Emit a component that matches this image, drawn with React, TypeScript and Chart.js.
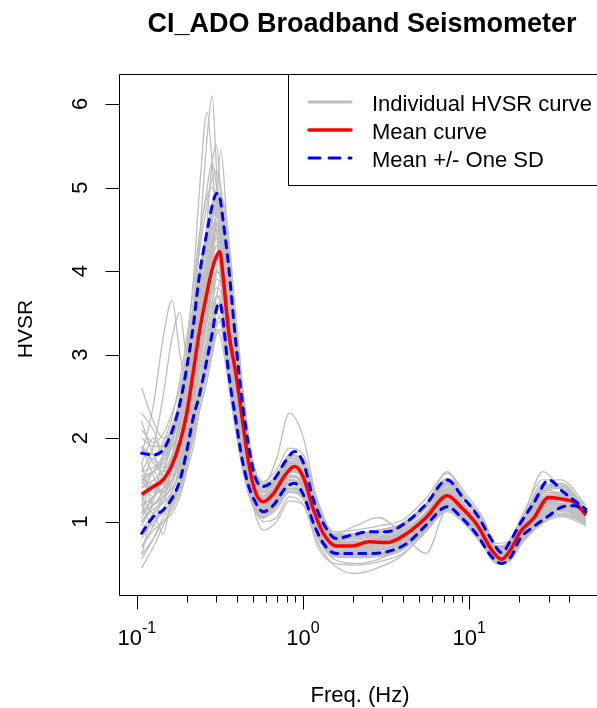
import React, { useEffect, useRef } from "react";
import { Chart, registerables } from "chart.js";
Chart.register(...registerables);

// ---- data ----
const FREQ = [0.107, 0.126, 0.144, 0.163, 0.182, 0.2, 0.219, 0.237, 0.265, 0.284, 0.302, 0.316, 0.33, 0.357, 0.394, 0.43, 0.467, 0.512, 0.575, 0.665, 0.782, 0.89, 1.006, 1.157, 1.325, 1.58, 1.975, 2.5, 3.19, 4.22, 5.5, 7.37, 9.06, 11.15, 13.65, 15.64, 17.79, 20.26, 24.35, 30.07, 36.56, 43.03, 50.25];
const MEAN = [1.33, 1.42, 1.5, 1.68, 1.95, 2.3, 2.8, 3.25, 3.75, 4.02, 4.18, 4.23, 3.95, 3.28, 2.78, 2.25, 1.75, 1.38, 1.24, 1.34, 1.56, 1.66, 1.53, 1.14, 0.86, 0.71, 0.71, 0.76, 0.75, 0.86, 1.05, 1.31, 1.16, 0.96, 0.66, 0.55, 0.67, 0.88, 1.04, 1.29, 1.27, 1.23, 1.08];
const UPPER = [1.82, 1.8, 1.86, 2.08, 2.42, 2.85, 3.35, 3.92, 4.48, 4.78, 4.93, 4.88, 4.62, 4.05, 3.15, 2.45, 1.95, 1.55, 1.42, 1.5, 1.72, 1.84, 1.7, 1.26, 0.98, 0.8, 0.84, 0.88, 0.88, 1.0, 1.21, 1.5, 1.3, 1.08, 0.78, 0.63, 0.78, 0.98, 1.22, 1.5, 1.36, 1.25, 1.15];
const LOWER = [0.86, 1.06, 1.14, 1.28, 1.5, 1.85, 2.25, 2.5, 2.95, 3.25, 3.55, 3.62, 3.42, 2.78, 2.22, 1.75, 1.45, 1.25, 1.12, 1.2, 1.4, 1.46, 1.32, 0.98, 0.74, 0.62, 0.62, 0.62, 0.64, 0.74, 0.96, 1.18, 1.04, 0.84, 0.58, 0.5, 0.58, 0.8, 0.94, 1.07, 1.18, 1.19, 1.12];

const G_FREQ = [0.107, 0.126, 0.144, 0.163, 0.182, 0.2, 0.219, 0.237, 0.265, 0.284, 0.302, 0.32, 0.348, 0.385, 0.43, 0.485, 0.575, 0.693, 0.827, 1.006, 1.227, 1.536, 2.063, 2.846, 3.967, 5.505, 7.369, 9.474, 11.98, 14.48, 16.96, 21.08, 27.62, 35.75, 50.25];
const CURVE_01 = [1.2, 1.3, 1.5, 1.8, 2.2, 2.7, 3.4, 4.3, 5.6, 6.1, 5.2, 4.4, 3.6, 2.9, 2.2, 1.6, 1.3, 1.4, 1.7, 1.55, 1.0, 0.75, 0.72, 0.78, 0.85, 1.1, 1.4, 1.15, 0.9, 0.6, 0.62, 0.95, 1.3, 1.3, 1.1];
const CURVE_02 = [1.5, 1.6, 1.7, 2.0, 2.5, 3.1, 3.9, 4.9, 5.9, 5.3, 4.5, 3.9, 3.3, 2.6, 2.0, 1.45, 1.2, 1.3, 1.5, 1.45, 1.0, 0.7, 0.68, 0.72, 0.8, 1.0, 1.25, 1.1, 0.85, 0.58, 0.62, 0.9, 1.22, 1.25, 1.05];
const CURVE_03 = [1.0, 1.2, 1.35, 1.5, 1.7, 2.0, 2.5, 3.0, 3.6, 4.1, 4.8, 5.45, 4.6, 3.4, 2.5, 1.7, 1.3, 1.45, 1.7, 1.6, 1.1, 0.75, 0.74, 0.8, 0.9, 1.1, 1.45, 1.2, 0.95, 0.62, 0.66, 0.98, 1.35, 1.35, 1.15];
const CURVE_04 = [1.8, 2.4, 3.2, 3.65, 3.0, 2.7, 3.0, 3.6, 4.6, 5.3, 5.5, 4.9, 3.9, 3.0, 2.3, 1.6, 1.3, 1.4, 1.65, 1.55, 1.05, 0.74, 0.7, 0.75, 0.82, 1.05, 1.3, 1.1, 0.88, 0.6, 0.64, 0.95, 1.28, 1.3, 1.1];
const CURVE_05 = [1.6, 1.9, 2.5, 3.2, 3.5, 3.0, 3.1, 3.4, 4.0, 4.4, 4.6, 4.3, 3.6, 2.8, 2.1, 1.5, 1.2, 1.3, 1.55, 1.5, 1.0, 0.72, 0.7, 0.74, 0.8, 1.0, 1.28, 1.12, 0.86, 0.58, 0.6, 0.9, 1.2, 1.26, 1.06];
const CURVE_06 = [0.45, 0.7, 0.95, 1.2, 1.5, 1.9, 2.4, 2.9, 3.4, 3.8, 4.0, 3.9, 3.3, 2.7, 2.1, 1.45, 1.15, 1.25, 1.5, 1.45, 0.95, 0.65, 0.6, 0.62, 0.7, 0.92, 1.2, 1.05, 0.8, 0.55, 0.58, 0.85, 1.12, 1.2, 1.0];
const CURVE_07 = [2.6, 2.2, 2.0, 2.1, 2.4, 2.9, 3.5, 4.0, 4.5, 4.8, 4.9, 4.6, 3.9, 3.1, 2.4, 1.7, 1.35, 1.5, 1.8, 1.7, 1.15, 0.85, 0.95, 1.05, 0.85, 0.62, 1.15, 1.15, 0.95, 0.65, 0.7, 1.02, 1.45, 1.4, 1.2];
const CURVE_08 = [0.9, 1.1, 1.3, 1.5, 1.8, 2.1, 2.6, 3.0, 3.5, 3.8, 4.0, 3.9, 3.3, 2.7, 2.0, 1.35, 1.0, 1.05, 1.3, 1.2, 0.75, 0.48, 0.38, 0.45, 0.6, 0.9, 1.2, 1.05, 0.85, 0.58, 0.62, 0.88, 1.15, 1.22, 1.02];
const CURVE_09 = [1.3, 1.4, 1.5, 1.7, 2.0, 2.3, 2.8, 3.3, 3.9, 4.2, 4.4, 4.2, 3.6, 3.0, 2.4, 1.7, 1.45, 1.75, 2.3, 2.0, 1.2, 0.8, 0.75, 0.8, 0.88, 1.1, 1.38, 1.15, 0.9, 0.62, 0.66, 0.95, 1.25, 1.3, 1.1];
const CURVE_10 = [0.8, 1.0, 1.1, 1.25, 1.45, 1.75, 2.1, 2.5, 2.9, 3.2, 3.5, 3.4, 2.8, 2.2, 1.7, 1.25, 1.05, 1.15, 1.35, 1.3, 0.9, 0.6, 0.6, 0.6, 0.68, 0.92, 1.15, 1.02, 0.8, 0.5, 0.55, 0.78, 1.0, 1.15, 0.98];
const CURVE_11 = [2.0, 1.9, 1.9, 2.1, 2.5, 2.9, 3.4, 3.9, 4.4, 4.7, 4.9, 4.7, 4.1, 3.3, 2.6, 1.85, 1.45, 1.55, 1.8, 1.75, 1.25, 0.85, 0.85, 0.9, 0.98, 1.2, 1.6, 1.25, 1.05, 0.68, 0.75, 1.05, 1.6, 1.4, 1.2];
const CURVE_12 = [1.4, 1.5, 1.6, 1.8, 2.1, 2.5, 3.0, 3.4, 3.9, 4.2, 4.3, 4.1, 3.5, 2.8, 2.2, 1.6, 1.25, 1.35, 1.6, 1.55, 1.05, 0.72, 0.7, 0.76, 0.84, 1.05, 1.32, 1.12, 0.9, 0.6, 0.62, 0.92, 1.22, 1.28, 1.08];
const CURVE_13 = [1.1, 1.3, 1.4, 1.6, 1.9, 2.3, 2.8, 3.4, 4.1, 4.6, 5.0, 4.7, 3.8, 3.0, 2.3, 1.65, 1.3, 1.4, 1.65, 1.55, 1.05, 0.7, 0.66, 0.7, 0.78, 1.0, 1.28, 1.1, 0.86, 0.56, 0.6, 0.9, 1.2, 1.25, 1.05];
const CURVE_14 = [1.0, 1.2, 1.3, 1.4, 1.6, 1.9, 2.3, 2.7, 3.1, 3.4, 3.7, 3.6, 3.1, 2.5, 1.9, 1.3, 0.9, 1.0, 1.25, 1.2, 0.7, 0.5, 0.48, 0.52, 0.62, 0.88, 1.15, 1.0, 0.78, 0.52, 0.55, 0.8, 1.05, 1.18, 0.95];
const CURVE_15 = [1.9, 1.7, 1.6, 1.7, 2.0, 2.4, 2.9, 3.5, 4.2, 4.6, 4.7, 4.4, 3.7, 2.9, 2.2, 1.5, 1.15, 1.3, 1.5, 1.4, 0.85, 0.55, 0.5, 0.55, 0.7, 0.95, 1.25, 1.08, 0.82, 0.55, 0.6, 0.88, 1.18, 1.25, 1.05];
const CURVE_16 = [1.2, 1.3, 1.4, 1.5, 1.7, 2.0, 2.4, 2.8, 3.2, 3.6, 4.0, 4.4, 4.3, 3.5, 2.6, 1.8, 1.35, 1.4, 1.6, 1.6, 1.2, 0.8, 0.76, 0.8, 0.85, 1.08, 1.35, 1.18, 0.95, 0.64, 0.68, 1.0, 1.3, 1.32, 1.12];
const CURVE_17 = [1.5, 1.6, 1.8, 2.0, 2.4, 2.9, 3.6, 4.3, 5.0, 5.3, 5.0, 4.3, 3.5, 2.8, 2.1, 1.5, 1.2, 1.35, 1.6, 1.5, 1.0, 0.7, 0.72, 0.78, 0.86, 1.08, 1.36, 1.15, 0.92, 0.62, 0.66, 0.98, 1.38, 1.32, 1.1];
const CURVE_18 = [0.6, 0.8, 1.0, 1.1, 1.3, 1.6, 1.9, 2.3, 2.7, 3.0, 3.3, 3.2, 2.8, 2.3, 1.8, 1.3, 1.1, 1.2, 1.4, 1.35, 0.9, 0.62, 0.62, 0.66, 0.74, 0.98, 1.22, 1.05, 0.82, 0.52, 0.56, 0.84, 1.08, 1.2, 1.02];
const CURVE_19 = [1.5, 1.3, 1.6, 1.9, 2.1, 2.5, 3.0, 3.5, 4.0, 4.4, 4.5, 4.3, 3.8, 3.1, 2.4, 1.7, 1.3, 1.45, 1.68, 1.6, 1.05, 0.76, 0.75, 0.8, 0.86, 1.1, 1.36, 1.14, 0.92, 0.64, 0.6, 0.94, 1.26, 1.3, 1.12];
const CURVE_20 = [1.1, 1.5, 1.3, 1.6, 1.85, 2.2, 2.65, 3.1, 3.55, 3.85, 4.0, 3.95, 3.45, 2.8, 2.15, 1.52, 1.2, 1.35, 1.56, 1.48, 0.97, 0.7, 0.7, 0.74, 0.8, 1.02, 1.28, 1.08, 0.86, 0.6, 0.56, 0.88, 1.16, 1.26, 1.06];
const CURVE_21 = [1.7, 1.2, 1.4, 1.75, 2.0, 2.4, 2.9, 3.4, 3.9, 4.25, 4.45, 4.35, 3.75, 3.05, 2.35, 1.65, 1.28, 1.42, 1.66, 1.58, 1.04, 0.75, 0.74, 0.78, 0.84, 1.08, 1.33, 1.12, 0.9, 0.63, 0.6, 0.92, 1.22, 1.3, 1.1];
const CURVE_22 = [1.2, 1.6, 1.45, 1.5, 1.8, 2.15, 2.6, 3.05, 3.5, 3.75, 3.9, 3.85, 3.4, 2.75, 2.1, 1.5, 1.18, 1.33, 1.54, 1.46, 0.95, 0.68, 0.68, 0.72, 0.78, 1.0, 1.25, 1.06, 0.84, 0.58, 0.55, 0.86, 1.14, 1.24, 1.04];
const CURVE_23 = [0.95, 1.25, 1.7, 1.55, 1.9, 2.35, 2.85, 3.3, 3.8, 4.1, 4.3, 4.2, 3.65, 2.95, 2.3, 1.62, 1.25, 1.4, 1.62, 1.55, 1.02, 0.74, 0.72, 0.76, 0.83, 1.06, 1.32, 1.1, 0.88, 0.62, 0.58, 0.9, 1.2, 1.28, 1.08];
const CURVE_24 = [1.45, 1.75, 1.55, 1.8, 2.25, 2.6, 3.15, 3.65, 4.2, 4.5, 4.65, 4.5, 3.95, 3.2, 2.45, 1.75, 1.35, 1.48, 1.72, 1.65, 1.1, 0.8, 0.78, 0.82, 0.9, 1.12, 1.42, 1.18, 0.95, 0.66, 0.63, 0.98, 1.32, 1.34, 1.14];
const CURVE_25 = [1.3, 1.1, 1.25, 1.45, 1.75, 2.05, 2.5, 2.95, 3.4, 3.65, 3.8, 3.75, 3.3, 2.65, 2.05, 1.45, 1.15, 1.3, 1.5, 1.42, 0.92, 0.66, 0.66, 0.7, 0.76, 0.98, 1.22, 1.04, 0.82, 0.56, 0.54, 0.84, 1.1, 1.22, 1.02];
const CURVE_26 = [2.2, 1.8, 1.65, 1.95, 2.3, 2.7, 3.2, 3.6, 4.1, 4.35, 4.5, 4.4, 3.85, 3.1, 2.4, 1.7, 1.32, 1.46, 1.7, 1.62, 1.07, 0.78, 0.76, 0.8, 0.87, 1.1, 1.38, 1.16, 0.93, 0.65, 0.62, 0.96, 1.28, 1.32, 1.12];
const CURVE_27 = [0.7, 0.95, 1.15, 1.35, 1.65, 2.0, 2.45, 2.85, 3.3, 3.55, 3.7, 3.65, 3.2, 2.6, 2.0, 1.42, 1.12, 1.26, 1.46, 1.4, 0.9, 0.64, 0.64, 0.68, 0.74, 0.95, 1.2, 1.02, 0.8, 0.55, 0.52, 0.82, 1.08, 1.2, 1.0];
const CURVE_28 = [1.55, 1.35, 1.8, 2.1, 2.05, 2.45, 2.95, 3.45, 3.95, 4.3, 4.55, 4.45, 3.9, 3.15, 2.4, 1.68, 1.3, 1.44, 1.68, 1.6, 1.06, 0.77, 0.75, 0.79, 0.86, 1.09, 1.35, 1.14, 0.91, 0.64, 0.61, 0.95, 1.27, 1.3, 1.1];
const CURVE_29 = [1.25, 1.45, 1.35, 1.65, 1.95, 2.25, 2.75, 3.2, 3.7, 4.0, 4.15, 4.05, 3.55, 2.9, 2.2, 1.58, 1.22, 1.38, 1.6, 1.52, 0.99, 0.72, 0.71, 0.75, 0.82, 1.04, 1.3, 1.09, 0.87, 0.61, 0.57, 0.89, 1.18, 1.27, 1.07];
const CURVE_30 = [1.9, 1.55, 1.35, 1.7, 2.15, 2.55, 3.05, 3.55, 4.05, 4.35, 4.5, 4.4, 3.85, 3.1, 2.4, 1.7, 1.3, 1.45, 1.7, 1.6, 1.06, 0.76, 0.74, 0.79, 0.85, 1.08, 1.34, 1.13, 0.9, 0.63, 0.6, 0.93, 1.24, 1.31, 1.11];
const CURVE_31 = [1.05, 1.3, 1.55, 1.4, 1.7, 2.1, 2.55, 3.0, 3.45, 3.75, 3.9, 3.85, 3.35, 2.75, 2.1, 1.5, 1.17, 1.32, 1.53, 1.45, 0.95, 0.69, 0.69, 0.73, 0.79, 1.01, 1.26, 1.06, 0.85, 0.59, 0.56, 0.87, 1.15, 1.25, 1.05];
const CURVE_32 = [1.4, 1.6, 1.75, 2.0, 2.3, 2.65, 3.1, 3.55, 4.05, 4.3, 4.4, 4.3, 3.75, 3.05, 2.35, 1.66, 1.28, 1.43, 1.66, 1.58, 1.04, 0.75, 0.74, 0.78, 0.85, 1.07, 1.33, 1.12, 0.9, 0.63, 0.6, 0.93, 1.24, 1.3, 1.1];
const CURVE_33 = [1.85, 1.75, 1.9, 2.15, 2.45, 2.9, 3.4, 3.95, 4.5, 4.8, 4.95, 4.85, 4.3, 3.3, 2.45, 1.75, 1.42, 1.56, 1.8, 1.72, 1.13, 0.83, 0.86, 0.9, 0.98, 1.22, 1.52, 1.3, 1.02, 0.71, 0.73, 1.06, 1.42, 1.46, 1.16];
const CURVE_34 = [1.6, 1.65, 1.75, 1.95, 2.3, 2.7, 3.2, 3.75, 4.3, 4.6, 4.75, 4.65, 4.1, 3.2, 2.4, 1.68, 1.36, 1.5, 1.72, 1.65, 1.08, 0.8, 0.8, 0.84, 0.92, 1.16, 1.44, 1.24, 0.97, 0.67, 0.68, 1.0, 1.34, 1.4, 1.14];
const CURVE_35 = [2.1, 1.95, 2.05, 2.3, 2.6, 3.05, 3.6, 4.2, 4.8, 5.1, 5.2, 5.0, 4.45, 3.45, 2.55, 1.82, 1.48, 1.62, 1.88, 1.8, 1.2, 0.88, 0.9, 0.95, 1.02, 1.28, 1.58, 1.34, 1.06, 0.74, 0.76, 1.1, 1.5, 1.5, 1.2];
const CURVE_36 = [1.7, 2.0, 1.8, 2.1, 2.4, 2.8, 3.3, 3.85, 4.4, 4.7, 4.85, 4.75, 4.2, 3.25, 2.5, 1.72, 1.4, 1.52, 1.76, 1.68, 1.1, 0.82, 0.83, 0.87, 0.95, 1.18, 1.48, 1.27, 1.0, 0.69, 0.7, 1.03, 1.38, 1.43, 1.15];
const CURVE_37 = [1.9, 1.8, 1.95, 2.25, 2.7, 3.2, 3.8, 4.4, 4.9, 5.0, 4.8, 4.4, 3.7, 2.9, 2.2, 1.6, 1.38, 1.5, 1.74, 1.66, 1.1, 0.8, 0.8, 0.86, 0.94, 1.17, 1.46, 1.25, 0.98, 0.68, 0.7, 1.02, 1.36, 1.42, 1.14];
const CURVE_38 = [1.55, 1.6, 1.7, 1.9, 2.15, 2.5, 2.95, 3.4, 3.95, 4.35, 4.7, 4.9, 4.6, 3.7, 2.7, 1.85, 1.45, 1.55, 1.78, 1.72, 1.15, 0.84, 0.84, 0.88, 0.96, 1.2, 1.5, 1.28, 1.0, 0.7, 0.72, 1.04, 1.4, 1.44, 1.16];
const CURVE_39 = [2.3, 2.1, 1.85, 2.0, 2.35, 2.75, 3.25, 3.8, 4.35, 4.65, 4.8, 4.7, 4.15, 3.2, 2.45, 1.7, 1.38, 1.53, 1.76, 1.7, 1.12, 0.82, 0.82, 0.86, 0.94, 1.19, 1.47, 1.26, 0.99, 0.69, 0.71, 1.03, 1.37, 1.42, 1.14];
const CURVE_40 = [0.85, 1.05, 1.12, 1.26, 1.48, 1.82, 2.2, 2.5, 2.95, 3.25, 3.5, 3.55, 3.1, 2.4, 1.78, 1.32, 1.1, 1.24, 1.42, 1.32, 0.85, 0.62, 0.61, 0.62, 0.7, 0.94, 1.17, 1.0, 0.76, 0.53, 0.54, 0.8, 1.02, 1.1, 1.0];
const CURVE_41 = [0.7, 0.9, 1.0, 1.15, 1.35, 1.65, 2.0, 2.3, 2.7, 3.0, 3.25, 3.3, 2.9, 2.25, 1.65, 1.25, 1.04, 1.18, 1.36, 1.26, 0.8, 0.58, 0.57, 0.58, 0.66, 0.9, 1.12, 0.96, 0.72, 0.5, 0.51, 0.76, 0.98, 1.06, 0.96];
const CURVE_42 = [1.0, 1.15, 1.22, 1.36, 1.6, 1.95, 2.35, 2.7, 3.15, 3.45, 3.7, 3.7, 3.25, 2.55, 1.9, 1.38, 1.14, 1.28, 1.48, 1.38, 0.9, 0.65, 0.64, 0.66, 0.74, 0.98, 1.21, 1.04, 0.8, 0.56, 0.57, 0.84, 1.06, 1.14, 1.02];
const CURVE_43 = [0.6, 1.1, 0.85, 1.3, 1.42, 1.75, 2.1, 2.45, 2.85, 3.15, 3.4, 3.45, 3.0, 2.35, 1.72, 1.3, 1.08, 1.22, 1.4, 1.3, 0.84, 0.6, 0.6, 0.61, 0.69, 0.93, 1.15, 0.99, 0.75, 0.52, 0.53, 0.79, 1.0, 1.09, 0.99];
const CURVE_44 = [1.1, 1.2, 1.3, 1.4, 1.55, 1.8, 2.15, 2.55, 3.0, 3.35, 3.7, 3.9, 3.6, 2.8, 2.05, 1.42, 1.16, 1.3, 1.5, 1.42, 0.92, 0.66, 0.65, 0.67, 0.75, 0.99, 1.23, 1.05, 0.81, 0.57, 0.58, 0.85, 1.08, 1.16, 1.04];
const CURVE_45 = [0.55, 0.8, 1.05, 1.2, 1.4, 1.7, 2.05, 2.4, 2.8, 3.1, 3.35, 3.4, 2.95, 2.3, 1.7, 1.28, 1.06, 1.2, 1.38, 1.28, 0.82, 0.59, 0.58, 0.6, 0.68, 0.92, 1.14, 0.98, 0.74, 0.51, 0.52, 0.78, 0.99, 1.08, 0.98];
const CURVE_46 = [1.2, 0.95, 1.3, 1.2, 1.5, 1.85, 2.25, 2.6, 3.05, 3.35, 3.6, 3.62, 3.2, 2.5, 1.85, 1.35, 1.12, 1.26, 1.45, 1.35, 0.88, 0.63, 0.62, 0.64, 0.72, 0.96, 1.19, 1.02, 0.78, 0.55, 0.56, 0.82, 1.04, 1.12, 1.01];
const CURVES = [CURVE_01, CURVE_02, CURVE_03, CURVE_04, CURVE_05, CURVE_06, CURVE_07, CURVE_08, CURVE_09, CURVE_10, CURVE_11, CURVE_12, CURVE_13, CURVE_14, CURVE_15, CURVE_16, CURVE_17, CURVE_18, CURVE_19, CURVE_20, CURVE_21, CURVE_22, CURVE_23, CURVE_24, CURVE_25, CURVE_26, CURVE_27, CURVE_28, CURVE_29, CURVE_30, CURVE_31, CURVE_32, CURVE_33, CURVE_34, CURVE_35, CURVE_36, CURVE_37, CURVE_38, CURVE_39, CURVE_40, CURVE_41, CURVE_42, CURVE_43, CURVE_44, CURVE_45, CURVE_46];

const Y_TICKS = [1, 2, 3, 4, 5, 6];
const X_MAJOR = [0.1, 1, 10];
const X_MAJOR_EXP = ["-1", "0", "1"];
const X_MINOR = [0.2, 0.3, 0.4, 0.5, 0.6, 0.7, 0.8, 0.9, 2, 3, 4, 5, 6, 7, 8, 9, 20, 30, 40];
const LEGEND_LABELS = ["Individual HVSR curve", "Mean curve", "Mean +/- One SD"];
const TITLE = "CI_ADO Broadband Seismometer";
const X_TITLE = "Freq. (Hz)";
const Y_TITLE = "HVSR";

const X_MIN = 0.0782;
const X_MAX = 80.6;
const Y_MIN = 0.1226;
const Y_MAX = 6.359;

const CW = 640;
const CH = 708;
const FONT = '"Liberation Sans", Arial, sans-serif';
const GRAY = "#BEBEBE";
const RED = "#FF0000";
const BLUE = "#0000FF";
const DASH = [7, 7];
const LEGEND_DASH = [11, 9];

const rPlugin = {
  id: "rDecor",
  afterDraw(chart: any) {
    const { ctx, chartArea: a, scales } = chart;
    const xs = scales.x;
    const ys = scales.y;
    ctx.save();
    ctx.strokeStyle = "#000";
    ctx.fillStyle = "#000";
    ctx.lineWidth = 1;
    const L = Math.round(a.left) + 0.5;
    const T = Math.round(a.top) + 0.5;
    const B = Math.round(a.bottom) + 0.5;
    const R = Math.round(a.right) + 0.5;
    ctx.beginPath();
    ctx.moveTo(L, T);
    ctx.lineTo(R, T);
    ctx.lineTo(R, B);
    ctx.lineTo(L, B);
    ctx.closePath();
    ctx.stroke();

    ctx.font = `22px ${FONT}`;
    Y_TICKS.forEach((v) => {
      const yp = ys.getPixelForValue(v);
      const y = Math.round(yp) + 0.5;
      ctx.beginPath();
      ctx.moveTo(L - 14, y);
      ctx.lineTo(L, y);
      ctx.stroke();
      ctx.save();
      ctx.translate(87, yp);
      ctx.rotate(-Math.PI / 2);
      ctx.textAlign = "center";
      ctx.textBaseline = "alphabetic";
      ctx.fillText(String(v), 0, 0);
      ctx.restore();
    });

    X_MINOR.forEach((v) => {
      const x = Math.round(xs.getPixelForValue(v)) + 0.5;
      ctx.beginPath();
      ctx.moveTo(x, B);
      ctx.lineTo(x, B + 7);
      ctx.stroke();
    });
    X_MAJOR.forEach((v, i) => {
      const xp = xs.getPixelForValue(v);
      const x = Math.round(xp) + 0.5;
      ctx.beginPath();
      ctx.moveTo(x, B);
      ctx.lineTo(x, B + 14);
      ctx.stroke();
      ctx.font = `22px ${FONT}`;
      const w1 = ctx.measureText("10").width;
      ctx.font = `16px ${FONT}`;
      const w2 = ctx.measureText(X_MAJOR_EXP[i]).width;
      const x0 = xp - (w1 + w2) / 2;
      ctx.textAlign = "left";
      ctx.textBaseline = "alphabetic";
      ctx.font = `22px ${FONT}`;
      ctx.fillText("10", x0, 645);
      ctx.font = `16px ${FONT}`;
      ctx.fillText(X_MAJOR_EXP[i], x0 + w1, 633);
    });

    ctx.font = `22px ${FONT}`;
    ctx.textAlign = "center";
    ctx.fillText(X_TITLE, 360, 702);
    ctx.save();
    ctx.translate(32, 329);
    ctx.rotate(-Math.PI / 2);
    ctx.font = `21px ${FONT}`;
    ctx.fillText(Y_TITLE, 0, 0);
    ctx.restore();

    ctx.font = `bold 27px ${FONT}`;
    ctx.textAlign = "center";
    ctx.fillText(TITLE, 362, 32);

    const lx = 288.5;
    ctx.fillStyle = "#fff";
    ctx.fillRect(lx, T, CW - lx + 10, 185 - T);
    ctx.strokeStyle = "#000";
    ctx.lineWidth = 1;
    ctx.beginPath();
    ctx.moveTo(CW + 5, T);
    ctx.lineTo(lx, T);
    ctx.lineTo(lx, 185.5);
    ctx.lineTo(CW + 5, 185.5);
    ctx.stroke();
    const rows = [102, 130, 158];
    const styles = [
      { c: GRAY, w: 3, d: [] as number[] },
      { c: RED, w: 3.5, d: [] as number[] },
      { c: BLUE, w: 3, d: LEGEND_DASH },
    ];
    rows.forEach((ry, i) => {
      const s = styles[i];
      ctx.strokeStyle = s.c;
      ctx.lineWidth = s.w;
      ctx.lineCap = "round";
      ctx.setLineDash(s.d);
      ctx.beginPath();
      ctx.moveTo(309, ry);
      ctx.lineTo(351, ry);
      ctx.stroke();
      ctx.setLineDash([]);
      ctx.fillStyle = "#000";
      ctx.font = `22px ${FONT}`;
      ctx.textAlign = "left";
      ctx.textBaseline = "alphabetic";
      ctx.fillText(LEGEND_LABELS[i], 372, ry + 9);
    });
    ctx.restore();
  },
};

export default function App() {
  const ref = useRef<HTMLCanvasElement | null>(null);
  useEffect(() => {
    const canvas = ref.current;
    if (!canvas) return;
    const toPts = (xs: number[], ys: number[]) => xs.map((x, i) => ({ x, y: ys[i] }));
    const grayDs = CURVES.map((c) => ({
      data: toPts(G_FREQ, c),
      borderColor: GRAY,
      borderWidth: 1.3,
      pointRadius: 0,
      fill: false,
      cubicInterpolationMode: "monotone" as const,
    }));
    const sd = (vals: number[]) => ({
      data: toPts(FREQ, vals),
      borderColor: BLUE,
      borderWidth: 3,
      borderDash: DASH,
      borderCapStyle: "round",
      pointRadius: 0,
      fill: false,
      cubicInterpolationMode: "monotone",
    });
    const chart = new Chart(canvas, {
      type: "line",
      data: {
        datasets: [
          sd(UPPER),
          sd(LOWER),
          { data: toPts(FREQ, MEAN), borderColor: RED, borderWidth: 3.5, pointRadius: 0, fill: false, cubicInterpolationMode: "monotone" },
          ...grayDs,
        ] as any,
      },
      options: {
        animation: false,
        responsive: false,
        maintainAspectRatio: false,
        devicePixelRatio: 1,
        layout: { padding: { left: 119, top: 74, right: CW - 620, bottom: CH - 595 } },
        scales: {
          x: { type: "logarithmic", min: X_MIN, max: X_MAX, display: false },
          y: { type: "linear", min: Y_MIN, max: Y_MAX, display: false },
        },
        plugins: { legend: { display: false }, tooltip: { enabled: false }, title: { display: false } },
        events: [],
      },
      plugins: [rPlugin],
    });
    return () => chart.destroy();
  }, []);
  return (
    <div style={{ position: "fixed", left: 0, top: 0, width: 597, height: 708, overflow: "hidden", background: "#fff" }}>
      <canvas ref={ref} width={CW} height={CH} style={{ display: "block", width: CW, height: CH }} />
    </div>
  );
}
